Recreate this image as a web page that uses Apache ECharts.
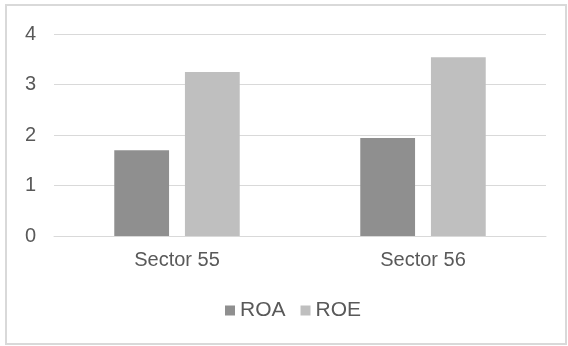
<!DOCTYPE html>
<html><head><meta charset="utf-8">
<script src="https://cdn.jsdelivr.net/npm/echarts@6/dist/echarts.min.js"></script>
<style>html,body{margin:0;padding:0;background:#fff}#c{width:568px;height:346px}</style>
</head><body><div id="c"></div>
<script>
const categories = ['Sector 55', 'Sector 56'];
const roa = [1.70, 1.94];
const roe = [3.25, 3.54];
const yTicks = [0, 1, 2, 3, 4];

const FONT = 'Liberation Sans, Arial, sans-serif';
const chart = echarts.init(document.getElementById('c'), null, {renderer: 'canvas'});
chart.setOption({
  animation: false,
  backgroundColor: '#fff',
  graphic: [{
    type: 'rect', shape: {x: 6, y: 5, width: 560, height: 339},
    style: {fill: 'none', stroke: '#d9d9d9', lineWidth: 2}
  }],
  grid: {left: 54, right: 22, top: 34, bottom: 110, containLabel: false},
  xAxis: {
    type: 'category', data: categories,
    axisLine: {show: true, lineStyle: {color: '#d9d9d9', width: 1}},
    axisTick: {show: false},
    axisLabel: {color: '#595959', fontFamily: FONT, fontSize: 20, margin: 14}
  },
  yAxis: {
    type: 'value', min: yTicks[0], max: yTicks[yTicks.length - 1], interval: 1,
    axisLine: {show: false}, axisTick: {show: false},
    axisLabel: {color: '#595959', fontFamily: FONT, fontSize: 20, margin: 18},
    splitLine: {lineStyle: {color: '#d9d9d9', width: 1}}
  },
  legend: {
    data: ['ROA', 'ROE'], top: 300, left: 225, padding: 0,
    itemWidth: 10, itemHeight: 10, itemGap: 15,
    icon: 'rect',
    textStyle: {color: '#595959', fontFamily: FONT, fontSize: 21}
  },
  series: [
    {name: 'ROA', type: 'bar', data: roa, itemStyle: {color: '#8f8f8f'}, barGap: '29%', barCategoryGap: '49%'},
    {name: 'ROE', type: 'bar', data: roe, itemStyle: {color: '#bfbfbf'}, barGap: '29%', barCategoryGap: '49%'}
  ]
});
</script></body></html>
